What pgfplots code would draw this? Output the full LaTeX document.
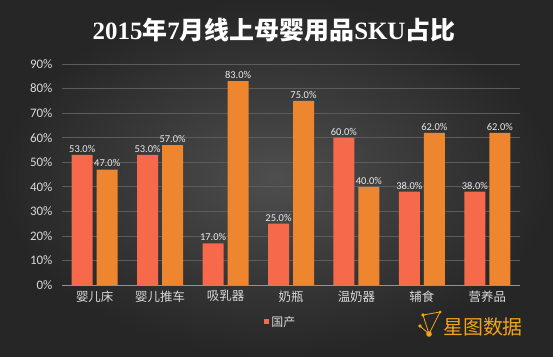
\documentclass[border=0pt]{standalone}
\usepackage{pgfplots}
\pgfplotsset{compat=1.18}
\usepackage{fontspec}
\setmainfont{Carlito}
\newfontfamily\cjk{Noto Sans CJK SC}
\newfontfamily\tserif{Liberation Serif}
\definecolor{bgin}{HTML}{4E4E4E}
\definecolor{bgout}{HTML}{262626}
\definecolor{redbar}{HTML}{F6694A}
\definecolor{orbar}{HTML}{EE8630}
\definecolor{gridc}{HTML}{5C5C5C}
\definecolor{txt}{HTML}{D9D9D9}
\definecolor{logo}{HTML}{F5A31A}
\pgfplotstableread{
x dom imp
0 53 47
1 53 57
2 17 83
3 25 75
4 60 40
5 38 62
6 38 62
}\data
\begin{document}
\begin{tikzpicture}[x=1bp,y=1bp]
\shade[inner color=bgin, outer color=bgout] (0,0) rectangle (553,356);
\node[text=white,font={\fontsize{25}{27}\selectfont\bfseries}] at (274,326)
  {\tserif 2015\cjk 年\tserif 7\cjk 月线上母婴用品\tserif SKU\cjk 占比};
\begin{axis}[
  at={(62bp,71bp)}, anchor=south west,
  scale only axis, width=458bp, height=221bp,
  xmin=-0.5, xmax=6.5, ymin=0, ymax=90,
  ybar=4bp, bar width=21bp,
  axis line style={draw=none},
  axis x line*=bottom,
  ytick={0,10,...,90},
  yticklabel={\pgfmathprintnumber{\tick}\%},
  /pgf/number format/assume math mode=true,
  y tick label style={text=txt,font=\fontsize{13}{15}\selectfont, xshift=-6bp},
  ymajorgrids, grid style={gridc, line width=0.6bp},
  major tick length=0pt,
  xtick=data,
  xticklabels={婴儿床,婴儿推车,吸乳器,奶瓶,温奶器,辅食,营养品},
  x tick label style={text=txt,font=\cjk\fontsize{12.5}{14}\selectfont, yshift=-2bp},
  nodes near coords={\pgfmathprintnumber[fixed,fixed zerofill,precision=1]{\pgfplotspointmeta}\%},
  every node near coord/.append style={text=white!92!black,font=\fontsize{10.5}{12}\selectfont, yshift=-1bp},
  legend style={at={(0.44,-0.167)}, anchor=west, draw=none, fill=none, text=txt,
    font=\cjk\fontsize{12}{14}\selectfont, inner sep=0pt},
  legend image code/.code={\fill[#1] (0cm,-0.09cm) rectangle (0.2cm,0.11cm);},
  clip=false,
]
\addplot[fill=redbar, draw=none] table[x=x,y=dom]{\data};
\addlegendentry{国产}
\addplot[fill=orbar, draw=none] table[x=x,y=imp]{\data};
\draw[color=gray!85, line width=0.8bp] (axis cs:-0.5,0) -- (axis cs:6.5,0);
\end{axis}
\begin{scope}[logo]
\draw[line width=0.8bp] (423,41) -- (440,44) -- (429,22) -- (423,41) (420,30) -- (429,22);
\fill (423,41) circle (1.8);
\fill (440,44) circle (1.5);
\fill (420,30) circle (1.8);
\fill (429,22) circle (2.8);
\end{scope}
\node[anchor=west, text=logo, font=\cjk\fontsize{20}{22}\selectfont, inner sep=0pt] at (443,29) {星图数据};
\end{tikzpicture}
\end{document}
